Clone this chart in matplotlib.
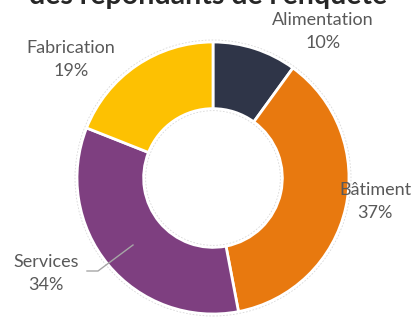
import matplotlib
matplotlib.use("Agg")
import matplotlib.pyplot as plt
from matplotlib.patches import Circle

categories = ["Alimentation", "Bâtiment", "Services", "Fabrication"]
values = [10, 37, 34, 19]
pct_labels = ["10%", "37%", "34%", "19%"]
colors = ["#2F3548", "#E8790F", "#7E3F80", "#FDC102"]
title = "des répondants de l'enquête"

W, H = 416, 318
fig = plt.figure(figsize=(W / 100, H / 100), dpi=100)
ax = fig.add_axes([0, 0, 1, 1])

cx, cy, R = 213, H - 178, 136
ring = 0.49 * R
ax.pie(values, colors=colors, startangle=90, counterclock=False,
       center=(cx, cy), radius=R, frame=True,
       wedgeprops=dict(width=ring, edgecolor="white", linewidth=2))
ax.set_xlim(0, W)
ax.set_ylim(0, H)
ax.set_aspect("equal")
ax.axis("off")
ax.add_patch(Circle((cx, cy), R + 2, fill=False, ec="#d8d8d8", lw=0.6, ls=(0, (2, 2))))
ax.add_patch(Circle((cx, cy), R - ring - 2, fill=False, ec="#d8d8d8", lw=0.6, ls=(0, (2, 2))))

label_pos = {"Alimentation": (323, H - 20), "Bâtiment": (375, H - 190),
             "Services": (46, H - 262), "Fabrication": (71, H - 48)}
for cat, p in zip(categories, pct_labels):
    x, y = label_pos[cat]
    ax.text(x, y, cat, ha="center", va="center", fontsize=13,
            family="Lato", color="#595959")
    ax.text(x, y - 23, p, ha="center", va="center", fontsize=13,
            family="Lato", color="#595959")

ax.plot([87, 98, 133], [H - 271, H - 271, H - 245], color="#a6a6a6", lw=1)

fig.text(0.5, 1 + 4 / H, title, ha="center", va="center", fontsize=20.5,
         family="Lato", weight="bold", color="#262626")

fig.savefig("out.png", dpi=100)
